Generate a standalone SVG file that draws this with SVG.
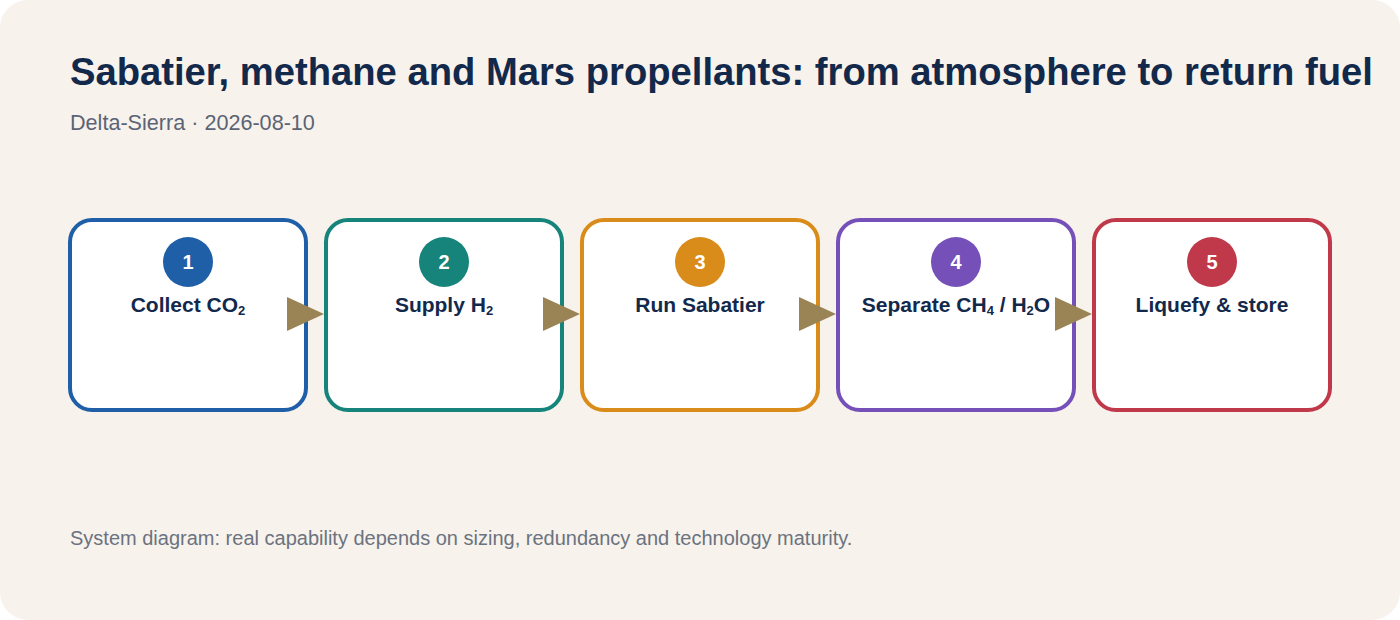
<svg xmlns="http://www.w3.org/2000/svg" width="1400" height="620" viewBox="0 0 1400 620">
<defs>
<style>
.title{font-family:"Liberation Sans",Arial,sans-serif;font-weight:bold;font-size:38.2px;fill:#13294b}
.sub{font-family:"Liberation Sans",Arial,sans-serif;font-size:21.6px;fill:#5b6475}
.foot{font-family:"Liberation Sans",Arial,sans-serif;font-size:20px;fill:#6b7280}
.box{fill:#ffffff;stroke-width:4}
.num{font-family:"Liberation Sans",Arial,sans-serif;font-weight:bold;font-size:20px;fill:#ffffff;text-anchor:middle}
.lbl{font-family:"Liberation Sans",Arial,sans-serif;font-weight:bold;font-size:21px;fill:#13294b;text-anchor:middle}
.s{font-size:13px}
.arrow{fill:#9a8455}
</style>
</defs>
<rect x="0" y="0" width="1400" height="620" rx="28" fill="#f7f2ec"/>
<text class="title" x="70" y="85">Sabatier, methane and Mars propellants: from atmosphere to return fuel</text>
<text class="sub" x="70" y="130">Delta-Sierra · 2026-08-10</text>
<g id="node1">
<rect class="box" x="70" y="220" width="236" height="190" rx="22" stroke="#1f5fa8"/>
<circle cx="188" cy="262" r="25" fill="#1f5fa8"/>
<text class="num" x="188" y="269">1</text>
<text class="lbl" x="188" y="312">Collect CO<tspan class="s" dy="3">2</tspan></text>
</g>
<g id="node2">
<rect class="box" x="326" y="220" width="236" height="190" rx="22" stroke="#16847a"/>
<circle cx="444" cy="262" r="25" fill="#16847a"/>
<text class="num" x="444" y="269">2</text>
<text class="lbl" x="444" y="312">Supply H<tspan class="s" dy="3">2</tspan></text>
</g>
<g id="node3">
<rect class="box" x="582" y="220" width="236" height="190" rx="22" stroke="#d98c1a"/>
<circle cx="700" cy="262" r="25" fill="#d98c1a"/>
<text class="num" x="700" y="269">3</text>
<text class="lbl" x="700" y="312">Run Sabatier</text>
</g>
<g id="node4">
<rect class="box" x="838" y="220" width="236" height="190" rx="22" stroke="#7550b8"/>
<circle cx="956" cy="262" r="25" fill="#7550b8"/>
<text class="num" x="956" y="269">4</text>
<text class="lbl" x="956" y="312">Separate CH<tspan class="s" dy="3">4</tspan><tspan dy="-3"> / H</tspan><tspan class="s" dy="3">2</tspan><tspan dy="-3">O</tspan></text>
</g>
<g id="node5">
<rect class="box" x="1094" y="220" width="236" height="190" rx="22" stroke="#c0394b"/>
<circle cx="1212" cy="262" r="25" fill="#c0394b"/>
<text class="num" x="1212" y="269">5</text>
<text class="lbl" x="1212" y="312">Liquefy &amp; store</text>
</g>
<g id="connectors">
<polygon class="arrow" points="287,297 324,314 287,331"/>
<polygon class="arrow" points="543,297 580,314 543,331"/>
<polygon class="arrow" points="799,297 836,314 799,331"/>
<polygon class="arrow" points="1055,297 1092,314 1055,331"/>
</g>
<text class="foot" x="70" y="545">System diagram: real capability depends on sizing, redundancy and technology maturity.</text>
</svg>
